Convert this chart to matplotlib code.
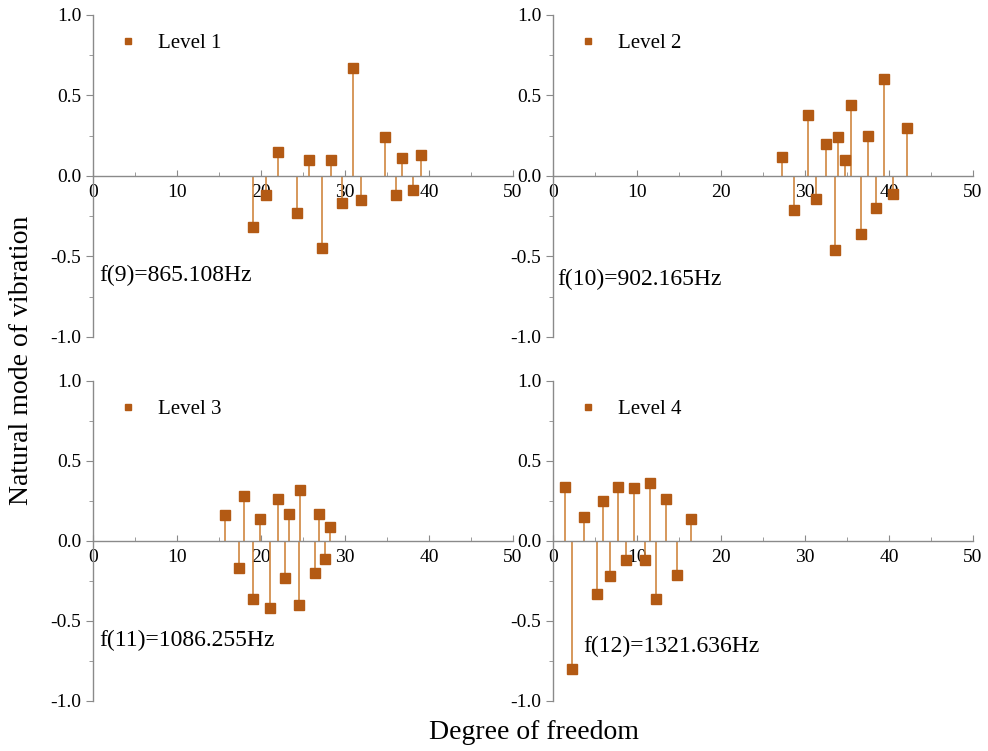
import matplotlib.pyplot as plt
from matplotlib.lines import Line2D
from matplotlib.ticker import MultipleLocator

plt.rcParams['font.family'] = ['Liberation Serif', 'DejaVu Serif']

# mode shapes for the four levels (degree of freedom, amplitude)
dof_1 = [19.0, 20.6, 22.0, 24.3, 25.7, 27.3, 28.3, 29.6, 31.0, 31.9, 34.8, 36.1, 36.8, 38.1, 39.1]
mode_1 = [-0.32, -0.12, 0.15, -0.23, 0.10, -0.45, 0.10, -0.17, 0.67, -0.15, 0.24, -0.12, 0.11, -0.09, 0.13]

dof_2 = [27.3, 28.7, 30.4, 31.3, 32.5, 33.6, 33.9, 34.8, 35.5, 36.7, 37.5, 38.5, 39.4, 40.5, 42.2]
mode_2 = [0.12, -0.21, 0.38, -0.14, 0.20, -0.46, 0.24, 0.10, 0.44, -0.36, 0.25, -0.20, 0.60, -0.11, 0.30]

dof_3 = [15.7, 17.4, 18.0, 19.0, 19.9, 21.1, 22.0, 22.9, 23.4, 24.5, 24.7, 26.4, 26.9, 27.6, 28.2]
mode_3 = [0.16, -0.17, 0.28, -0.36, 0.14, -0.42, 0.26, -0.23, 0.17, -0.40, 0.32, -0.20, 0.17, -0.11, 0.09]

dof_4 = [1.4, 2.3, 3.7, 5.2, 5.9, 6.8, 7.7, 8.7, 9.6, 10.9, 11.6, 12.3, 13.4, 14.8, 16.4]
mode_4 = [0.34, -0.80, 0.15, -0.33, 0.25, -0.22, 0.34, -0.12, 0.33, -0.12, 0.36, -0.36, 0.26, -0.21, 0.14]

levels = ['Level 1', 'Level 2', 'Level 3', 'Level 4']
freqs = ['f(9)=865.108Hz', 'f(10)=902.165Hz', 'f(11)=1086.255Hz', 'f(12)=1321.636Hz']

marker_c = '#B35A14'
stem_c = '#CF8640'
axis_c = '#8A8A8A'

fig = plt.figure(figsize=(9.88, 7.51), dpi=100)

# panel boxes in figure fractions
boxes = [
    [0.0941, 0.5513, 0.425, 0.4288],
    [0.5597, 0.5513, 0.425, 0.4288],
    [0.0941, 0.0666, 0.425, 0.4261],
    [0.5597, 0.0666, 0.425, 0.4261],
]
text_pos = [(0.8, -0.62), (0.5, -0.64), (0.8, -0.62), (3.6, -0.66)]

panels = [(dof_1, mode_1), (dof_2, mode_2), (dof_3, mode_3), (dof_4, mode_4)]

for i, (xs, ys) in enumerate(panels):
    ax = fig.add_axes(boxes[i])
    ml, sl, bl = ax.stem(xs, ys, basefmt=' ')
    ml.set_marker('s')
    ml.set_markersize(6.5)
    ml.set_color(marker_c)
    sl.set_color(stem_c)
    sl.set_linewidth(1.2)

    ax.set_xlim(0, 50)
    ax.set_ylim(-1, 1)

    # axes cross at the origin
    ax.spines['left'].set_position(('data', 0))
    ax.spines['bottom'].set_position(('data', 0))
    ax.spines['top'].set_visible(False)
    ax.spines['right'].set_visible(False)
    for s in ('left', 'bottom'):
        ax.spines[s].set_color(axis_c)
        ax.spines[s].set_linewidth(1.0)

    ax.xaxis.set_major_locator(MultipleLocator(10))
    ax.xaxis.set_minor_locator(MultipleLocator(5))
    ax.yaxis.set_major_locator(MultipleLocator(0.5))
    ax.yaxis.set_minor_locator(MultipleLocator(0.25))
    ax.set_yticks([-1, -0.5, 0, 0.5, 1])
    ax.set_yticklabels(['-1.0', '-0.5', '0.0', '0.5', '1.0'])
    ax.tick_params(which='both', colors=axis_c, labelcolor='black', labelsize=14)
    ax.tick_params(axis='x', which='major', length=4, direction='in', pad=6)
    ax.tick_params(axis='x', which='minor', length=3, direction='in')
    ax.tick_params(axis='y', which='major', length=5, direction='out')
    ax.tick_params(axis='y', which='minor', length=3, direction='out')
    ax.patch.set_alpha(0)

    proxy = Line2D([], [], marker='s', linestyle='none', color=marker_c, markersize=5)
    ax.legend([proxy], [levels[i]], loc='upper left', frameon=False,
              fontsize=15, bbox_to_anchor=(0.015, 1.0), handlelength=1.0,
              handletextpad=0.9)

    tx, ty = text_pos[i]
    ax.text(tx, ty, freqs[i], fontsize=17, va='center', ha='left')

fig.text(0.022, 0.52, 'Natural mode of vibration', rotation=90, fontsize=20,
         ha='center', va='center')
fig.text(0.54, 0.024, 'Degree of freedom', fontsize=20, ha='center', va='center')

fig.savefig('out.png', dpi=100)
